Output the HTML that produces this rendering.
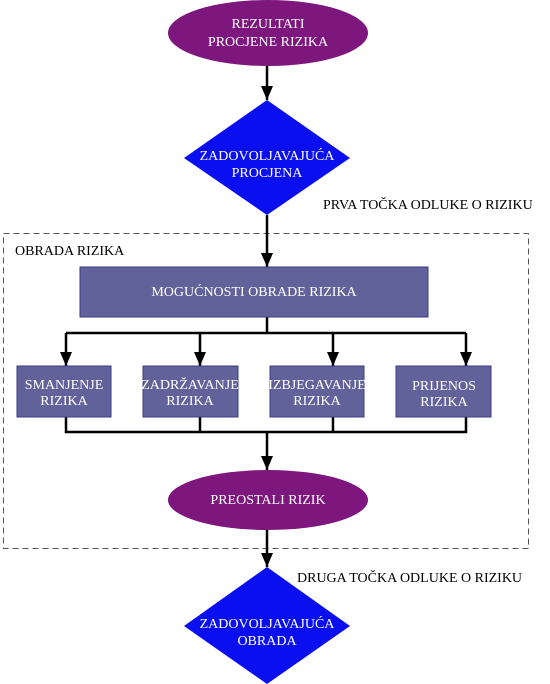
<!DOCTYPE html>
<html><head><meta charset="utf-8"><style>
body{margin:0;background:#fff}
svg{display:block}
text{font-family:"Liberation Serif",serif;font-size:14px}
.w{fill:#fff;text-anchor:middle}
.b{fill:#000}
</style></head><body>
<svg width="550" height="684" viewBox="0 0 550 684" xmlns="http://www.w3.org/2000/svg">
<defs><marker id="a" markerWidth="14" markerHeight="12" refX="14" refY="6" orient="auto" markerUnits="userSpaceOnUse"><path d="M0,0 L14,6 L0,12 Z" fill="#000"/></marker></defs>
<rect x="3.5" y="233.5" width="525" height="315" fill="none" stroke="#555" stroke-dasharray="6,4"/>
<g stroke="#000" stroke-width="2.5" fill="none">
<line x1="267" y1="66" x2="267" y2="100" marker-end="url(#a)"/>
<line x1="267" y1="215" x2="267" y2="267" marker-end="url(#a)"/>
<line x1="267" y1="317" x2="267" y2="333"/>
<line x1="66" y1="333" x2="466" y2="333"/>
<line x1="66" y1="333" x2="66" y2="366" marker-end="url(#a)"/>
<line x1="200" y1="333" x2="200" y2="366" marker-end="url(#a)"/>
<line x1="333" y1="333" x2="333" y2="366" marker-end="url(#a)"/>
<line x1="466" y1="333" x2="466" y2="366" marker-end="url(#a)"/>
<polyline points="66,417 66,432 466,432 466,417"/>
<line x1="200" y1="417" x2="200" y2="432"/>
<line x1="333" y1="417" x2="333" y2="432"/>
<line x1="267" y1="432" x2="267" y2="470" marker-end="url(#a)"/>
<line x1="267" y1="530" x2="267" y2="567" marker-end="url(#a)"/>
</g>
<ellipse cx="268" cy="33" rx="100" ry="33" fill="#7d177d"/>
<text class="w" x="268" y="28">REZULTATI</text>
<text class="w" x="268" y="46">PROCJENE RIZIKA</text>
<polygon points="267,100 350,158 267,215 184,158" fill="#0a0ff0"/>
<text class="w" x="267" y="160">ZADOVOLJAVAJUĆA</text>
<text class="w" x="267" y="177">PROCJENA</text>
<text class="b" x="323" y="209">PRVA TOČKA ODLUKE O RIZIKU</text>
<text class="b" x="15" y="255">OBRADA RIZIKA</text>
<rect x="80" y="267" width="348" height="50" fill="#62629a" stroke="#3b3b85"/>
<text class="w" x="254" y="296">MOGUĆNOSTI OBRADE RIZIKA</text>
<g fill="#62629a" stroke="#3b3b85">
<rect x="17" y="366" width="94" height="51"/>
<rect x="143" y="366" width="95" height="51"/>
<rect x="270" y="366" width="94" height="51"/>
<rect x="396" y="366" width="95" height="51"/>
</g>
<text class="w" x="64" y="389">SMANJENJE</text><text class="w" x="64" y="405">RIZIKA</text>
<text class="w" x="190" y="389">ZADRŽAVANJE</text><text class="w" x="190" y="405">RIZIKA</text>
<text class="w" x="317" y="389">IZBJEGAVANJE</text><text class="w" x="317" y="405">RIZIKA</text>
<text class="w" x="444" y="390">PRIJENOS</text><text class="w" x="444" y="406">RIZIKA</text>
<ellipse cx="268" cy="500" rx="100" ry="30" fill="#7d177d"/>
<text class="w" x="268" y="504">PREOSTALI RIZIK</text>
<text class="b" x="297" y="582">DRUGA TOČKA ODLUKE O RIZIKU</text>
<polygon points="267,567 350,626 267,684 184,626" fill="#0a0ff0"/>
<text class="w" x="267" y="628">ZADOVOLJAVAJUĆA</text>
<text class="w" x="267" y="645">OBRADA</text>
</svg>
</body></html>
